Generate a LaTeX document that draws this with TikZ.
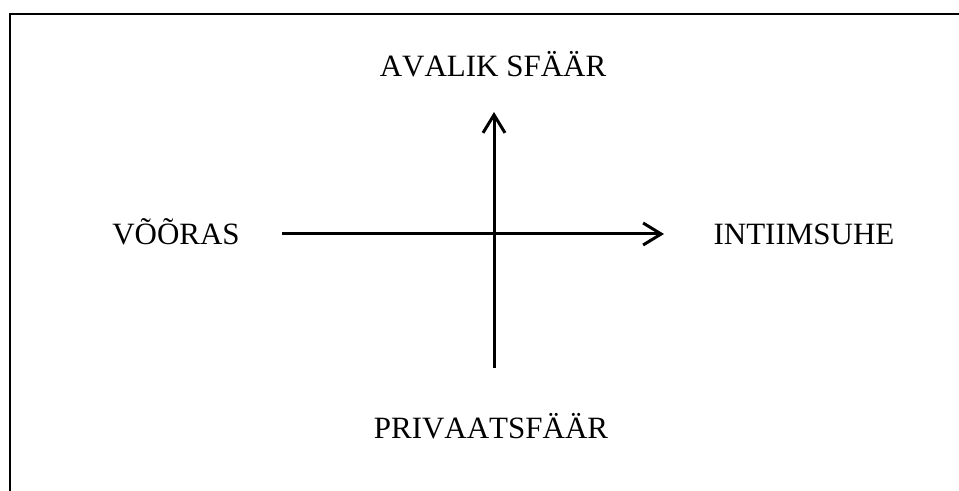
\documentclass[tikz,border=0pt]{standalone}
\usepackage{fontspec}
\setmainfont[Kerning=Off]{Liberation Serif}
\usepackage{tikz}
\usetikzlibrary{arrows.meta}
\tikzset{
  label/.style={anchor=base,inner sep=0pt,font=\fontsize{15.5}{18}\selectfont},
  axis/.style={-{Straight Barb[length=9pt,width=11pt,line width=1.5pt]},line width=1.5pt},
  frame/.style={line width=1pt}
}

\begin{document}
\begin{tikzpicture}[x=0.5pt,y=-0.5pt]
\useasboundingbox (0,0) rectangle (959,491);
\clip (0,0) rectangle (959,491);
% frame
\draw[frame] (10,14) rectangle (1000,540);
% labels
\node[label] (avalik) at (493,77) {AVALIK SFÄÄR};
\node[label] (privaat) at (491,439) {PRIVAATSFÄÄR};
\node[label] (vooras) at (176,245) {VÕÕRAS};
\node[label] (intiim) at (804,245) {INTIIMSUHE};
% axes
\coordinate (xstart) at (282,234);
\coordinate (xend) at (664,234);
\coordinate (ystart) at (494,368);
\coordinate (yend) at (494,112);
\draw[axis] (xstart) -- (xend);
\draw[axis] (ystart) -- (yend);
\end{tikzpicture}
\end{document}
